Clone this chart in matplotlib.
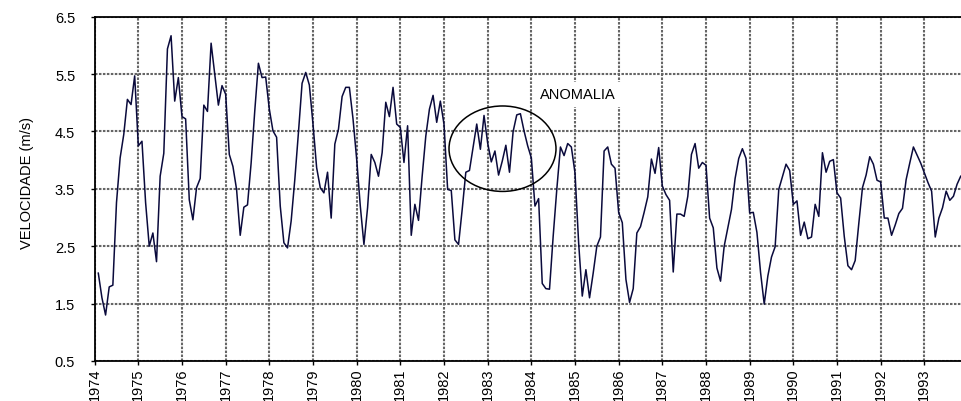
import numpy as np
import matplotlib
matplotlib.use("Agg")
import matplotlib.pyplot as plt
from matplotlib.patches import Ellipse

# ── Monthly mean wind speed (m/s), series starting 1974 ─────
vel_1974_1977 = [2.03, 1.60, 1.30, 1.79, 1.82, 3.26, 4.04, 4.45, 5.06, 4.97, 5.47, 4.25,
                 4.33, 3.26, 2.50, 2.73, 2.23, 3.72, 4.12, 5.94, 6.17, 5.03, 5.44, 4.76,
                 4.72, 3.31, 2.96, 3.52, 3.68, 4.96, 4.85, 6.04, 5.50, 4.96, 5.30, 5.15,
                 4.10, 3.89, 3.49, 2.69, 3.18, 3.22, 3.95, 4.86, 5.69, 5.44, 5.45, 4.89]
vel_1978_1981 = [4.51, 4.40, 3.20, 2.56, 2.47, 2.94, 3.66, 4.48, 5.34, 5.53, 5.31, 4.63,
                 3.87, 3.52, 3.43, 3.79, 2.99, 4.28, 4.54, 5.11, 5.27, 5.27, 4.72, 4.02,
                 3.20, 2.53, 3.17, 4.10, 3.96, 3.72, 4.13, 5.01, 4.76, 5.27, 4.63, 4.57,
                 3.96, 4.60, 2.69, 3.23, 2.95, 3.72, 4.42, 4.89, 5.13, 4.66, 5.03, 4.63]
vel_1982_1985 = [3.49, 3.47, 2.61, 2.53, 3.14, 3.79, 3.82, 4.22, 4.63, 4.19, 4.78, 4.30,
                 3.97, 4.16, 3.74, 3.98, 4.26, 3.79, 4.50, 4.79, 4.81, 4.51, 4.25, 4.04,
                 3.20, 3.33, 1.85, 1.76, 1.75, 2.67, 3.49, 4.23, 4.08, 4.29, 4.23, 3.78,
                 2.56, 1.63, 2.09, 1.60, 2.03, 2.50, 2.66, 4.16, 4.23, 3.93, 3.86, 3.09]
vel_1986_1989 = [2.91, 1.92, 1.52, 1.76, 2.73, 2.84, 3.09, 3.36, 4.02, 3.77, 4.22, 3.55,
                 3.40, 3.30, 2.05, 3.06, 3.06, 3.02, 3.37, 4.10, 4.29, 3.86, 3.96, 3.91,
                 2.99, 2.82, 2.12, 1.89, 2.50, 2.82, 3.14, 3.68, 4.03, 4.20, 4.03, 3.08,
                 3.09, 2.74, 2.04, 1.49, 1.98, 2.31, 2.49, 3.49, 3.71, 3.93, 3.82, 3.23]
vel_1990_1993 = [3.29, 2.69, 2.92, 2.63, 2.66, 3.23, 3.02, 4.13, 3.79, 3.98, 4.01, 3.43,
                 3.34, 2.67, 2.16, 2.09, 2.25, 2.90, 3.52, 3.74, 4.06, 3.93, 3.65, 3.62,
                 2.99, 2.99, 2.69, 2.87, 3.07, 3.16, 3.66, 3.95, 4.23, 4.09, 3.95, 3.78,
                 3.61, 3.46, 2.66, 2.99, 3.17, 3.46, 3.30, 3.37, 3.58, 3.72]

anos = list(range(1974, 1994))
y_ticks = [0.5, 1.5, 2.5, 3.5, 4.5, 5.5, 6.5]

# anomaly highlight (centre year, centre speed, width in years, height in m/s)
anomalia_centro = (1983.34, 4.20)
anomalia_largura = 2.45
anomalia_altura = 1.49
anomalia_texto = "ANOMALIA"
anomalia_texto_pos = (1985.07, 5.15)

velocidade = np.array(vel_1974_1977 + vel_1978_1981 + vel_1982_1985
                      + vel_1986_1989 + vel_1990_1993)
t = 1974 + (np.arange(len(velocidade)) + 1) / 12.0

plt.rcParams["font.family"] = ["Liberation Sans", "DejaVu Sans"]
plt.rcParams["font.size"] = 10.5

fig = plt.figure(figsize=(9.61, 4.02), dpi=100)
ax = fig.add_axes([0.0985, 0.0998, 0.9015, 0.8559])

ax.plot(t, velocidade, color="#0a0a3c", linewidth=1.1, zorder=3)

ax.add_patch(Ellipse(anomalia_centro, anomalia_largura, anomalia_altura,
                     fill=False, edgecolor="black", linewidth=1.1, zorder=4))
ax.text(*anomalia_texto_pos, anomalia_texto, ha="center", va="center",
        fontsize=10.5, zorder=5,
        bbox=dict(facecolor="white", edgecolor="none", pad=4))

# ── Axes styling ─────────────────────────────────────────────
ax.set_xlim(1974, 1993.84)
ax.set_ylim(0.5, 6.5)
ax.set_xticks(anos)
ax.set_xticklabels([str(a) for a in anos], rotation=90)
ax.set_yticks(y_ticks)
ax.set_yticklabels([f"{v:.1f}" for v in y_ticks])
ax.tick_params(axis="x", length=3, width=1, pad=2, direction="out")
ax.tick_params(axis="y", length=3, width=1, pad=11, direction="out")

ax.grid(True, color="#656565", linestyle=(0, (1.2, 0.7)), linewidth=1.5, zorder=1)
ax.set_axisbelow(True)

for side in ("left", "bottom", "top"):
    ax.spines[side].set_linewidth(1.3)
    ax.spines[side].set_color("black")
ax.spines["right"].set_visible(False)

ax.set_ylabel("VELOCIDADE (m/s)", fontsize=10.5)
ax.yaxis.set_label_coords(-0.070, 0.52)

fig.savefig("out.png", dpi=100)
